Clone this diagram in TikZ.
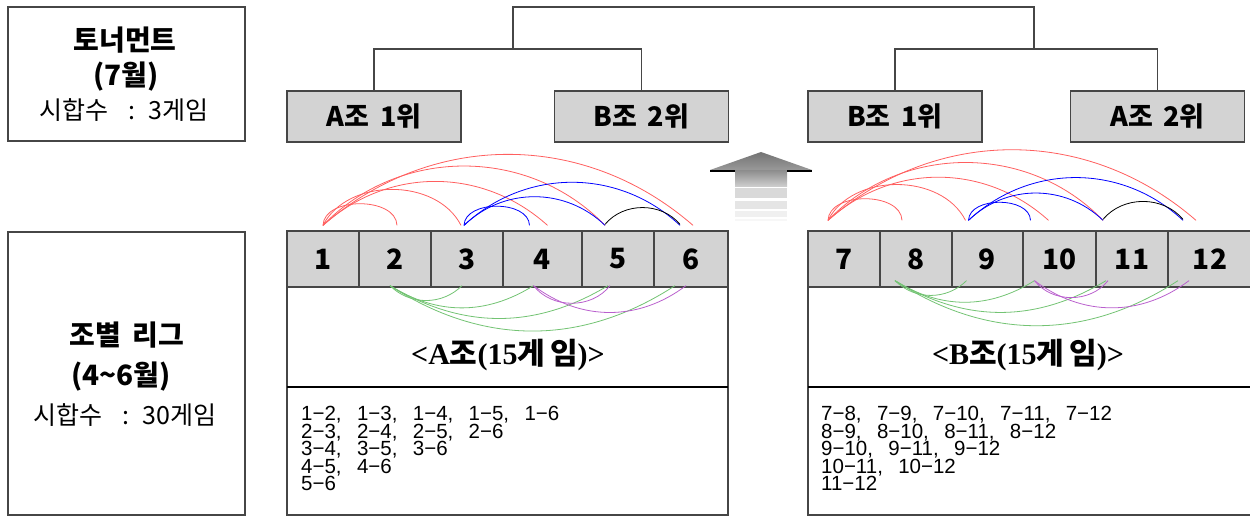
\documentclass[tikz,border=0pt]{standalone}
\usepackage{fontspec}
\setmainfont{Noto Sans CJK KR}
\newfontfamily\kr{Noto Sans CJK KR}
\newfontfamily\serifbold{Liberation Serif}
\newfontfamily\pairfont{Liberation Sans}
\newcommand\gap{\hspace{.75em}}

\definecolor{cellgray}{RGB}{211,211,211}
\definecolor{framegray}{RGB}{70,70,70}
\definecolor{arcred}{RGB}{255,95,95}
\definecolor{arcgreen}{RGB}{115,195,115}
\definecolor{arcpurple}{RGB}{185,95,205}

\begin{document}
\begin{tikzpicture}[x=1pt,y=-1pt,
  frame/.style={draw=framegray, line width=1.3pt},
  infobox/.style={frame, inner sep=0pt, minimum width=237pt},
  rankbox/.style={frame, fill=cellgray, inner sep=0pt, minimum width=174pt, minimum height=51pt,
    font=\fontsize{27}{30}\selectfont\bfseries},
  cell/.style={frame, fill=cellgray, inner sep=0pt, minimum height=56pt,
    font=\fontsize{28}{30}\selectfont\bfseries},
  title/.style={inner sep=0pt, font=\fontsize{28}{30}\selectfont\bfseries},
  games/.style={inner sep=0pt, font=\fontsize{25}{28}\selectfont},
  grouplabel/.style={inner sep=0pt, font=\serifbold\fontsize{30}{32}\selectfont\bfseries},
  pairs/.style={anchor=north west, inner sep=0pt, align=left,
    font=\pairfont\fontsize{20.5}{17.5}\selectfont},
  arc/.style={line width=0.8pt},
]
  \useasboundingbox (0,0) rectangle (1250,516);

  % Left side boxes
  \node[infobox, minimum height=134pt] (tour) at (126.5,74) {};
  \node[title] (tourname) at (125,40) {토너먼트};
  \node[title] (tourmonth) at (126,77) {(7월)};
  \node[games] (tourgames) at (124,110) {시합수\hspace{.8em}:\hspace{.5em}3게임};

  \node[infobox, minimum height=283pt] (league) at (126.5,373.5) {};
  \node[title] (leaguename) at (127,335) {조별 \,리그};
  \node[title] (leaguemonth) at (121,377) {(4\textasciitilde6월)};
  \node[games] (leaguegames) at (125,415) {시합수\hspace{.8em}:\hspace{.5em}30게임};

  % Tournament bracket
  \node[rankbox] (ta1) at (374,116.5) {A조 \,1위};
  \node[rankbox] (tb2) at (641.5,116.5) {B조 \,2위};
  \node[rankbox] (tb1) at (895,116.5) {B조 \,1위};
  \node[rankbox] (ta2) at (1157.5,116.5) {A조 \,2위};

  \coordinate (semiL) at (513,49);
  \coordinate (semiR) at (1034,49);
  \coordinate (topL) at (513,7);
  \coordinate (topR) at (1034,7);
  \draw[framegray, line width=1.2pt] (ta1.north) |- (semiL) -| (tb2.north);
  \draw[framegray, line width=1.2pt] (tb1.north) |- (semiR) -| (ta2.north);
  \draw[framegray, line width=1.2pt] (semiL) -- (topL) -- (topR) -- (semiR);

  % Group panels
  \node[frame, inner sep=0pt, minimum width=441pt, minimum height=284pt] (panelA) at (507.5,373) {};
  \node[frame, inner sep=0pt, minimum width=444pt, minimum height=284pt] (panelB) at (1030,373) {};
  \draw[black, line width=1.2pt] (287,387) -- (728,387);
  \draw[black, line width=1.2pt] (808,387) -- (1252,387);

  \foreach \i/\x/\w in {1/323/72, 2/395/72, 3/467/72, 4/542.5/79, 5/618/72, 6/691/74}
    \node[cell, minimum width=\w pt] (a\i) at (\x,259) {\i};
  \foreach \i/\n/\x/\w in {1/7/844/72, 2/8/916/72, 3/9/987.5/71, 4/10/1059.5/73, 5/11/1132/72, 6/12/1210/84}
    \node[cell, minimum width=\w pt] (b\i) at (\x,259) {\n};

  \node[grouplabel] (labA) at (508,355) {<A{\kr 조}(15{\kr 게\,임})>};
  \node[grouplabel] (labB) at (1028,355) {<B{\kr 조}(15{\kr 게\,임})>};

  \node[pairs] (listA) at (301,406) {1−2,\gap 1−3,\gap 1−4,\gap 1−5,\gap 1−6\\2−3,\gap 2−4,\gap 2−5,\gap 2−6\\3−4,\gap 3−5,\gap 3−6\\4−5,\gap 4−6\\5−6};
  \node[pairs] (listB) at (821,406) {7−8,\gap 7−9,\gap 7−10,\gap 7−11,\gap 7−12\\8−9,\gap 8−10,\gap 8−11,\gap 8−12\\9−10,\gap 9−11,\gap 9−12\\10−11,\gap 10−12\\11−12};

  % Arrow up
  \shade[top color=black!55, bottom color=black!40] (710,170) -- (761,152) -- (812,170) -- cycle;
  \shade[top color=black!45, bottom color=black!20] (735,170) rectangle (787,186);
  \fill[black!15] (735,188) rectangle (787,198);
  \fill[black!10] (735,201) rectangle (787,209);
  \fill[black!6] (735,211) rectangle (787,217);
  \fill[black!3] (735,219) rectangle (787,221);
  \draw[line width=2pt] (710,171) -- (735,171) (787,171) -- (812,171);

  % Pairs drawn as arcs
  \foreach \g/\dx/\dy in {a/0/0, b/-16/5} {
    \foreach \j/\e/\b in {2/2/88, 3/-6/63, 4/5/42, 5/-13/46, 6/2/41}
      \draw[arc, arcred] ([xshift=\dx, yshift=5+\dy]\g1.north) to[bend left=\b]
        ([xshift=\dx+\e, yshift=5+\dy]\g\j.north);
    \foreach \j/\e/\b in {4/-13/88, 5/-13/44, 6/-11/43}
      \draw[arc, blue] ([xshift=\dx-3, yshift=5+\dy]\g3.north) to[bend left=\b]
        ([xshift=\dx+\e, yshift=5+\dy]\g\j.north);
    \draw[arc, black] ([xshift=\dx-13, yshift=6+\dy]\g5.north) to[bend left=50]
      ([xshift=\dx-11, yshift=6+\dy]\g6.north);
    \foreach \j/\e/\b in {3/-5/45, 4/-9/32, 5/-10/31, 6/-16/33}
      \draw[arc, arcgreen] ([xshift=\dx-5, yshift=2+\dy]\g2.south) to[bend right=\b]
        ([xshift=\dx+\e, yshift=2+\dy]\g\j.south);
    \foreach \j/\e/\b in {5/-8/52, 6/-5/37}
      \draw[arc, arcpurple] ([xshift=\dx-9, yshift=2+\dy]\g4.south) to[bend right=\b]
        ([xshift=\dx+\e, yshift=2+\dy]\g\j.south);
  }
\end{tikzpicture}
\end{document}
